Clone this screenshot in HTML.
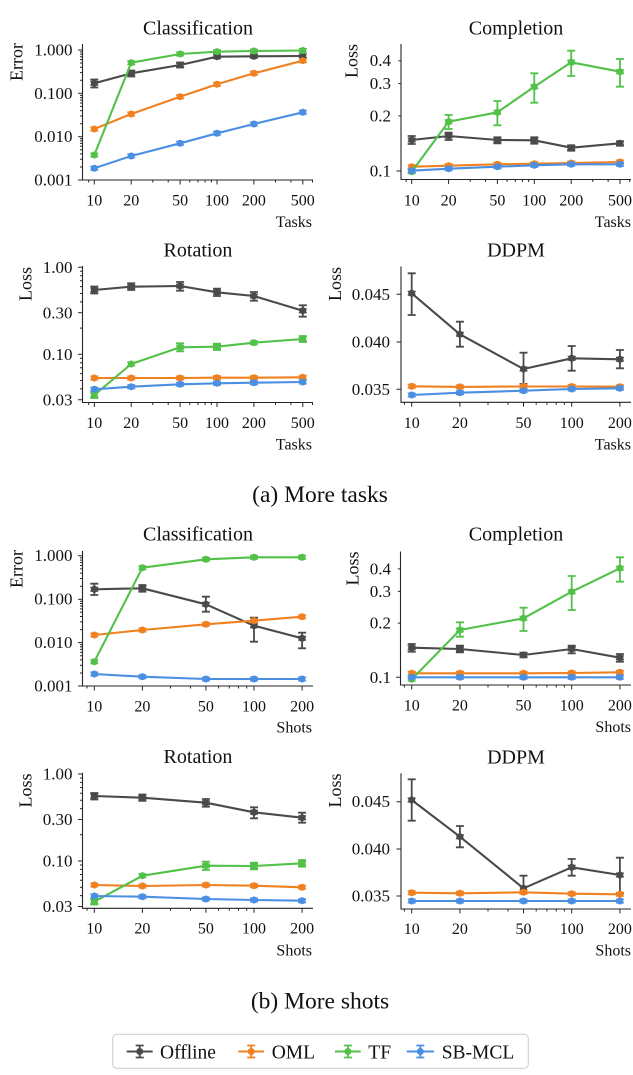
<!DOCTYPE html>
<html><head><meta charset="utf-8"><style>
html,body{margin:0;padding:0;background:#fff;}
svg{display:block;}
text{font-family:"Liberation Serif",serif;fill:#111;}
.t{font-size:20px;text-anchor:middle;}
.yl{font-size:17px;text-anchor:end;}
.xl{font-size:16px;text-anchor:middle;}
.al{font-size:16px;text-anchor:end;}
.lab{font-size:18px;text-anchor:end;}
.cap{font-size:23.5px;text-anchor:middle;}
.sp{fill:none;stroke:#262626;stroke-width:1.1;}
.tk{fill:none;stroke:#262626;stroke-width:1;}
.g{stroke:#4a4a4a;fill:#4a4a4a;}
.o{stroke:#ef8121;fill:#ef8121;}
.gr{stroke:#52c149;fill:#52c149;}
.b{stroke:#4b8fe3;fill:#4b8fe3;}
.ln{fill:none !important;stroke-width:2.1;stroke-linejoin:round;}
.eb{fill:none !important;stroke-width:1.8;}
</style></head><body>
<svg width="633" height="1075" viewBox="0 0 633 1075" xmlns="http://www.w3.org/2000/svg">
<defs>
<g id="mk"><circle r="3.5" stroke="none"/><path d="M-4 -1.8h8M-4 1.8h8" fill="none" stroke-width="1.4"/></g>
</defs>

<!-- ================= P1 Classification tasks ================= -->
<text class="t" x="198" y="34.3">Classification</text>
<text class="lab" transform="translate(22.7,43) rotate(-90)">Error</text>
<path class="sp" d="M82.5 44V180H313"/>
<path class="tk" d="M82.5 50h-4.5M82.5 93.3h-4.5M82.5 136.7h-4.5M82.5 180h-4.5"/>
<path class="tk" d="M82.5 167h-2.5M82.5 159.3h-2.5M82.5 153.9h-2.5M82.5 149.7h-2.5M82.5 146.3h-2.5M82.5 143.4h-2.5M82.5 140.9h-2.5M82.5 138.7h-2.5M82.5 123.7h-2.5M82.5 116h-2.5M82.5 110.6h-2.5M82.5 106.4h-2.5M82.5 103h-2.5M82.5 100.1h-2.5M82.5 97.6h-2.5M82.5 95.4h-2.5M82.5 80.3h-2.5M82.5 72.6h-2.5M82.5 67.2h-2.5M82.5 63h-2.5M82.5 59.6h-2.5M82.5 56.7h-2.5M82.5 54.2h-2.5M82.5 52h-2.5"/>
<path class="tk" d="M94.3 180v4.5M131.2 180v4.5M180.1 180v4.5M217 180v4.5M253.9 180v4.5M302.8 180v4.5M88.7 180v2.5M152.8 180v2.5M168.2 180v2.5M189.8 180v2.5M198 180v2.5M205.1 180v2.5M211.4 180v2.5M275.5 180v2.5M290.9 180v2.5M312.5 180v2.5"/>
<text class="yl" x="72.5" y="55.5">1.000</text>
<text class="yl" x="72.5" y="98.8">0.100</text>
<text class="yl" x="72.5" y="142.2">0.010</text>
<text class="yl" x="72.5" y="185.5">0.001</text>
<text class="xl" x="94.3" y="205.5">10</text>
<text class="xl" x="131.2" y="205.5">20</text>
<text class="xl" x="180.1" y="205.5">50</text>
<text class="xl" x="217" y="205.5">100</text>
<text class="xl" x="253.9" y="205.5">200</text>
<text class="xl" x="302.8" y="205.5">500</text>
<text class="al" x="312" y="227">Tasks</text>

<polyline class="ln g" points="94.3,83.3 131.2,73.3 180.1,65 217,56.7 253.9,56.3 302.8,56"/>
<path class="eb g" d="M94.3 79.5V87.5M90.3 79.5h8M90.3 87.5h8M131.2 70.5V76.5M127.2 70.5h8M127.2 76.5h8M180.1 62.5V67.5M176.1 62.5h8M176.1 67.5h8"/>
<g class="g"><use href="#mk" x="94.3" y="83.3"/><use href="#mk" x="131.2" y="73.3"/><use href="#mk" x="180.1" y="65"/><use href="#mk" x="217" y="56.7"/><use href="#mk" x="253.9" y="56.3"/><use href="#mk" x="302.8" y="56"/></g>
<polyline class="ln o" points="94.3,129 131.2,114 180.1,96.7 217,84.3 253.9,73.3 302.8,60.7"/>
<g class="o"><use href="#mk" x="94.3" y="129"/><use href="#mk" x="131.2" y="114"/><use href="#mk" x="180.1" y="96.7"/><use href="#mk" x="217" y="84.3"/><use href="#mk" x="253.9" y="73.3"/><use href="#mk" x="302.8" y="60.7"/></g>
<polyline class="ln gr" points="94.3,155 131.2,62.7 180.1,54 217,51.7 253.9,51 302.8,50.5"/>
<g class="gr"><use href="#mk" x="94.3" y="155"/><use href="#mk" x="131.2" y="62.7"/><use href="#mk" x="180.1" y="54"/><use href="#mk" x="217" y="51.7"/><use href="#mk" x="253.9" y="51"/><use href="#mk" x="302.8" y="50.5"/></g>
<polyline class="ln b" points="94.3,168.3 131.2,156 180.1,143.3 217,133.3 253.9,124 302.8,112.3"/>
<g class="b"><use href="#mk" x="94.3" y="168.3"/><use href="#mk" x="131.2" y="156"/><use href="#mk" x="180.1" y="143.3"/><use href="#mk" x="217" y="133.3"/><use href="#mk" x="253.9" y="124"/><use href="#mk" x="302.8" y="112.3"/></g>

<!-- ================= P2 Completion tasks ================= -->
<text class="t" x="516" y="34.3">Completion</text>
<text class="lab" transform="translate(357.7,44) rotate(-90)">Loss</text>
<path class="sp" d="M401 44V179.5H631"/>
<path class="tk" d="M401 171h-4.5M401 115.9h-2.6M401 83.6h-2.6M401 60.7h-2.6"/>
<path class="tk" d="M411.7 179.5v4.5M448.6 179.5v4.5M497.4 179.5v4.5M534.3 179.5v4.5M571.2 179.5v4.5M620 179.5v4.5M406.1 179.5v2.5M470.2 179.5v2.5M485.5 179.5v2.5M507.1 179.5v2.5M515.3 179.5v2.5M522.4 179.5v2.5M528.7 179.5v2.5M592.8 179.5v2.5M608.1 179.5v2.5M629.7 179.5v2.5"/>
<text class="yl" x="391" y="66.2">0.4</text>
<text class="yl" x="391" y="89.1">0.3</text>
<text class="yl" x="391" y="121.4">0.2</text>
<text class="yl" x="391" y="176.5">0.1</text>
<text class="xl" x="411.7" y="205.5">10</text>
<text class="xl" x="448.6" y="205.5">20</text>
<text class="xl" x="497.4" y="205.5">50</text>
<text class="xl" x="534.3" y="205.5">100</text>
<text class="xl" x="571.2" y="205.5">200</text>
<text class="xl" x="620" y="205.5">500</text>
<text class="al" x="631" y="227">Tasks</text>

<polyline class="ln g" points="411.7,140 448.6,136 497.4,140 534.3,140.3 571.2,147.7 620,143.3"/>
<path class="eb g" d="M411.7 136V144M407.7 136h8M407.7 144h8M448.6 132.7V140M444.6 132.7h8M444.6 140h8M497.4 137.3V143.3M493.4 137.3h8M493.4 143.3h8M534.3 137.3V143.7M530.3 137.3h8M530.3 143.7h8M571.2 145.3V150.7M567.2 145.3h8M567.2 150.7h8M620 141.3V145.7M616 141.3h8M616 145.7h8"/>
<g class="g"><use href="#mk" x="411.7" y="140"/><use href="#mk" x="448.6" y="136"/><use href="#mk" x="497.4" y="140"/><use href="#mk" x="534.3" y="140.3"/><use href="#mk" x="571.2" y="147.7"/><use href="#mk" x="620" y="143.3"/></g>
<polyline class="ln o" points="411.7,166.7 448.6,165.7 497.4,164.3 534.3,163.7 571.2,163 620,162"/>
<g class="o"><use href="#mk" x="411.7" y="166.7"/><use href="#mk" x="448.6" y="165.7"/><use href="#mk" x="497.4" y="164.3"/><use href="#mk" x="534.3" y="163.7"/><use href="#mk" x="571.2" y="163"/><use href="#mk" x="620" y="162"/></g>
<polyline class="ln gr" points="411.7,171.7 448.6,121.7 497.4,112.3 534.3,86.7 571.2,62.3 620,71.7"/>
<path class="eb gr" d="M448.6 115V129M444.6 115h8M444.6 129h8M497.4 101V125.3M493.4 101h8M493.4 125.3h8M534.3 73.3V102.7M530.3 73.3h8M530.3 102.7h8M571.2 50.7V76M567.2 50.7h8M567.2 76h8M620 59V86.7M616 59h8M616 86.7h8"/>
<g class="gr"><use href="#mk" x="411.7" y="171.7"/><use href="#mk" x="448.6" y="121.7"/><use href="#mk" x="497.4" y="112.3"/><use href="#mk" x="534.3" y="86.7"/><use href="#mk" x="571.2" y="62.3"/><use href="#mk" x="620" y="71.7"/></g>
<polyline class="ln b" points="411.7,170.7 448.6,168.7 497.4,166.7 534.3,165.3 571.2,164.3 620,164.3"/>
<g class="b"><use href="#mk" x="411.7" y="170.7"/><use href="#mk" x="448.6" y="168.7"/><use href="#mk" x="497.4" y="166.7"/><use href="#mk" x="534.3" y="165.3"/><use href="#mk" x="571.2" y="164.3"/><use href="#mk" x="620" y="164.3"/></g>

<!-- ================= P3 Rotation tasks ================= -->
<text class="t" x="198" y="256.7">Rotation</text>
<text class="lab" transform="translate(31.7,267) rotate(-90)">Loss</text>
<path class="sp" d="M82.5 266V402.5H313"/>
<path class="tk" d="M82.5 267.3h-4.5M82.5 312.8h-4.5M82.5 354.3h-4.5M82.5 399.8h-4.5"/>
<path class="tk" d="M82.5 328.1h-2.5M82.5 301.9h-2.5M82.5 293.5h-2.5M82.5 286.6h-2.5M82.5 280.8h-2.5M82.5 275.7h-2.5M82.5 271.3h-2.5M82.5 388.9h-2.5M82.5 380.5h-2.5M82.5 373.6h-2.5M82.5 367.8h-2.5M82.5 362.7h-2.5M82.5 358.3h-2.5"/>
<path class="tk" d="M94.3 402.5v4.5M131.2 402.5v4.5M180.1 402.5v4.5M217 402.5v4.5M253.9 402.5v4.5M302.8 402.5v4.5M88.7 402.5v2.5M152.8 402.5v2.5M168.2 402.5v2.5M189.8 402.5v2.5M198 402.5v2.5M205.1 402.5v2.5M211.4 402.5v2.5M275.5 402.5v2.5M290.9 402.5v2.5M312.5 402.5v2.5"/>
<text class="yl" x="72.5" y="272.8">1.00</text>
<text class="yl" x="72.5" y="318.3">0.30</text>
<text class="yl" x="72.5" y="359.8">0.10</text>
<text class="yl" x="72.5" y="405.3">0.03</text>
<text class="xl" x="94.3" y="428">10</text>
<text class="xl" x="131.2" y="428">20</text>
<text class="xl" x="180.1" y="428">50</text>
<text class="xl" x="217" y="428">100</text>
<text class="xl" x="253.9" y="428">200</text>
<text class="xl" x="302.8" y="428">500</text>
<text class="al" x="312" y="449.5">Tasks</text>

<polyline class="ln g" points="94.3,290 131.2,286.7 180.1,286 217,292.3 253.9,296 302.8,310.7"/>
<path class="eb g" d="M94.3 286.5V293.5M90.3 286.5h8M90.3 293.5h8M131.2 283.3V290M127.2 283.3h8M127.2 290h8M180.1 282V290.7M176.1 282h8M176.1 290.7h8M217 288.7V296M213 288.7h8M213 296h8M253.9 292V300.7M249.9 292h8M249.9 300.7h8M302.8 305.3V316.7M298.8 305.3h8M298.8 316.7h8"/>
<g class="g"><use href="#mk" x="94.3" y="290"/><use href="#mk" x="131.2" y="286.7"/><use href="#mk" x="180.1" y="286"/><use href="#mk" x="217" y="292.3"/><use href="#mk" x="253.9" y="296"/><use href="#mk" x="302.8" y="310.7"/></g>
<polyline class="ln o" points="94.3,378 131.2,378 180.1,378 217,377.7 253.9,377.7 302.8,377.3"/>
<g class="o"><use href="#mk" x="94.3" y="378"/><use href="#mk" x="131.2" y="378"/><use href="#mk" x="180.1" y="378"/><use href="#mk" x="217" y="377.7"/><use href="#mk" x="253.9" y="377.7"/><use href="#mk" x="302.8" y="377.3"/></g>
<polyline class="ln gr" points="94.3,395 131.2,364 180.1,347.3 217,346.7 253.9,342.7 302.8,339"/>
<path class="eb gr" d="M94.3 392V398M90.3 392h8M90.3 398h8M180.1 343.3V351.3M176.1 343.3h8M176.1 351.3h8M217 343.7V350M213 343.7h8M213 350h8M302.8 336V342M298.8 336h8M298.8 342h8"/>
<g class="gr"><use href="#mk" x="94.3" y="395"/><use href="#mk" x="131.2" y="364"/><use href="#mk" x="180.1" y="347.3"/><use href="#mk" x="217" y="346.7"/><use href="#mk" x="253.9" y="342.7"/><use href="#mk" x="302.8" y="339"/></g>
<polyline class="ln b" points="94.3,389.3 131.2,386.7 180.1,384.3 217,383.3 253.9,382.7 302.8,382"/>
<g class="b"><use href="#mk" x="94.3" y="389.3"/><use href="#mk" x="131.2" y="386.7"/><use href="#mk" x="180.1" y="384.3"/><use href="#mk" x="217" y="383.3"/><use href="#mk" x="253.9" y="382.7"/><use href="#mk" x="302.8" y="382"/></g>

<!-- ================= P4 DDPM tasks ================= -->
<text class="t" x="516" y="256.7">DDPM</text>
<text class="lab" transform="translate(341,267) rotate(-90)">Loss</text>
<path class="sp" d="M401 266.5V402.3H631"/>
<path class="tk" d="M401 294.3h-4.5M401 342h-4.5M401 389.3h-4.5"/>
<path class="tk" d="M411.7 402.3v4.5M459.9 402.3v4.5M523.5 402.3v4.5M571.7 402.3v4.5M619.9 402.3v4.5M404.4 402.3v2.5M488 402.3v2.5M508 402.3v2.5M536.2 402.3v2.5M546.9 402.3v2.5M556.2 402.3v2.5M564.4 402.3v2.5"/>
<text class="yl" x="390" y="299.8">0.045</text>
<text class="yl" x="390" y="347.5">0.040</text>
<text class="yl" x="390" y="394.8">0.035</text>
<text class="xl" x="411.7" y="428">10</text>
<text class="xl" x="459.9" y="428">20</text>
<text class="xl" x="523.5" y="428">50</text>
<text class="xl" x="571.7" y="428">100</text>
<text class="xl" x="619.9" y="428">200</text>
<text class="al" x="631" y="449.5">Tasks</text>

<polyline class="ln g" points="411.7,293.3 459.9,334.3 523.5,369 571.7,358.3 619.9,359.3"/>
<path class="eb g" d="M411.7 273.3V315M407.7 273.3h8M407.7 315h8M459.9 321.7V346.7M455.9 321.7h8M455.9 346.7h8M523.5 352.7V384M519.5 352.7h8M519.5 384h8M571.7 346V370.7M567.7 346h8M567.7 370.7h8M619.9 350V368.3M615.9 350h8M615.9 368.3h8"/>
<g class="g"><use href="#mk" x="411.7" y="293.3"/><use href="#mk" x="459.9" y="334.3"/><use href="#mk" x="523.5" y="369"/><use href="#mk" x="571.7" y="358.3"/><use href="#mk" x="619.9" y="359.3"/></g>
<polyline class="ln o" points="411.7,386.3 459.9,386.9 523.5,386.5 571.7,386.5 619.9,386.7"/>
<g class="o"><use href="#mk" x="411.7" y="386.3"/><use href="#mk" x="459.9" y="386.9"/><use href="#mk" x="523.5" y="386.5"/><use href="#mk" x="571.7" y="386.5"/><use href="#mk" x="619.9" y="386.7"/></g>
<polyline class="ln b" points="411.7,395 459.9,392.7 523.5,390.7 571.7,389 619.9,388.3"/>
<g class="b"><use href="#mk" x="411.7" y="395"/><use href="#mk" x="459.9" y="392.7"/><use href="#mk" x="523.5" y="390.7"/><use href="#mk" x="571.7" y="389"/><use href="#mk" x="619.9" y="388.3"/></g>

<text class="cap" x="320" y="502">(a) More tasks</text>

<!-- ================= P5 Classification shots ================= -->
<text class="t" x="198" y="540.5">Classification</text>
<text class="lab" transform="translate(22.7,550) rotate(-90)">Error</text>
<path class="sp" d="M82.5 551V686H313"/>
<path class="tk" d="M82.5 555.7h-4.5M82.5 599.2h-4.5M82.5 642.6h-4.5M82.5 686h-4.5"/>
<path class="tk" d="M82.5 673h-2.5M82.5 665.3h-2.5M82.5 659.9h-2.5M82.5 655.7h-2.5M82.5 652.3h-2.5M82.5 649.4h-2.5M82.5 646.9h-2.5M82.5 644.7h-2.5M82.5 629.6h-2.5M82.5 621.9h-2.5M82.5 616.5h-2.5M82.5 612.3h-2.5M82.5 608.9h-2.5M82.5 606h-2.5M82.5 603.5h-2.5M82.5 601.3h-2.5M82.5 586.2h-2.5M82.5 578.5h-2.5M82.5 573.1h-2.5M82.5 568.9h-2.5M82.5 565.5h-2.5M82.5 562.6h-2.5M82.5 560.1h-2.5M82.5 557.9h-2.5"/>
<path class="tk" d="M94.3 686v4.5M142.4 686v4.5M205.9 686v4.5M254 686v4.5M302.1 686v4.5M87 686v2.5M170.5 686v2.5M190.5 686v2.5M218.6 686v2.5M229.3 686v2.5M238.5 686v2.5M246.7 686v2.5"/>
<text class="yl" x="72.5" y="561.2">1.000</text>
<text class="yl" x="72.5" y="604.7">0.100</text>
<text class="yl" x="72.5" y="648.1">0.010</text>
<text class="yl" x="72.5" y="691.5">0.001</text>
<text class="xl" x="94.3" y="711.5">10</text>
<text class="xl" x="142.4" y="711.5">20</text>
<text class="xl" x="205.9" y="711.5">50</text>
<text class="xl" x="254" y="711.5">100</text>
<text class="xl" x="302.1" y="711.5">200</text>
<text class="al" x="312" y="732.5">Shots</text>

<polyline class="ln g" points="94.3,589.3 142.4,588.3 205.9,604.3 254,625.7 302.1,638.3"/>
<path class="eb g" d="M94.3 583.7V595M90.3 583.7h8M90.3 595h8M142.4 585V591.7M138.4 585h8M138.4 591.7h8M205.9 596.7V611.7M201.9 596.7h8M201.9 611.7h8M254 617.7V641.7M250 617.7h8M250 641.7h8M302.1 632.7V648.3M298.1 632.7h8M298.1 648.3h8"/>
<g class="g"><use href="#mk" x="94.3" y="589.3"/><use href="#mk" x="142.4" y="588.3"/><use href="#mk" x="205.9" y="604.3"/><use href="#mk" x="254" y="625.7"/><use href="#mk" x="302.1" y="638.3"/></g>
<polyline class="ln o" points="94.3,635 142.4,630 205.9,624.3 254,620.7 302.1,616.7"/>
<g class="o"><use href="#mk" x="94.3" y="635"/><use href="#mk" x="142.4" y="630"/><use href="#mk" x="205.9" y="624.3"/><use href="#mk" x="254" y="620.7"/><use href="#mk" x="302.1" y="616.7"/></g>
<polyline class="ln gr" points="94.3,661.7 142.4,567.7 205.9,559.3 254,557.3 302.1,557.3"/>
<g class="gr"><use href="#mk" x="94.3" y="661.7"/><use href="#mk" x="142.4" y="567.7"/><use href="#mk" x="205.9" y="559.3"/><use href="#mk" x="254" y="557.3"/><use href="#mk" x="302.1" y="557.3"/></g>
<polyline class="ln b" points="94.3,674 142.4,676.7 205.9,679 254,679 302.1,679"/>
<g class="b"><use href="#mk" x="94.3" y="674"/><use href="#mk" x="142.4" y="676.7"/><use href="#mk" x="205.9" y="679"/><use href="#mk" x="254" y="679"/><use href="#mk" x="302.1" y="679"/></g>

<!-- ================= P6 Completion shots ================= -->
<text class="t" x="516" y="540.5">Completion</text>
<text class="lab" transform="translate(358.7,551.5) rotate(-90)">Loss</text>
<path class="sp" d="M400.5 551.5V685H631"/>
<path class="tk" d="M400.5 677.3h-4.5M400.5 623.1h-2.6M400.5 591.4h-2.6M400.5 568.9h-2.6"/>
<path class="tk" d="M411.7 685v4.5M459.9 685v4.5M523.5 685v4.5M571.7 685v4.5M619.9 685v4.5M404.4 685v2.5M488 685v2.5M508 685v2.5M536.2 685v2.5M546.9 685v2.5M556.2 685v2.5M564.4 685v2.5"/>
<text class="yl" x="391" y="574.4">0.4</text>
<text class="yl" x="391" y="596.9">0.3</text>
<text class="yl" x="391" y="628.6">0.2</text>
<text class="yl" x="391" y="682.8">0.1</text>
<text class="xl" x="411.7" y="710.5">10</text>
<text class="xl" x="459.9" y="710.5">20</text>
<text class="xl" x="523.5" y="710.5">50</text>
<text class="xl" x="571.7" y="710.5">100</text>
<text class="xl" x="619.9" y="710.5">200</text>
<text class="al" x="631" y="732">Shots</text>

<polyline class="ln g" points="411.7,647.7 459.9,649 523.5,655 571.7,649 619.9,657.7"/>
<path class="eb g" d="M411.7 644V651.7M407.7 644h8M407.7 651.7h8M459.9 645.7V652.3M455.9 645.7h8M455.9 652.3h8M523.5 652.7V657.3M519.5 652.7h8M519.5 657.3h8M571.7 645.7V653.3M567.7 645.7h8M567.7 653.3h8M619.9 654V661.7M615.9 654h8M615.9 661.7h8"/>
<g class="g"><use href="#mk" x="411.7" y="647.7"/><use href="#mk" x="459.9" y="649"/><use href="#mk" x="523.5" y="655"/><use href="#mk" x="571.7" y="649"/><use href="#mk" x="619.9" y="657.7"/></g>
<polyline class="ln o" points="411.7,673.3 459.9,673.3 523.5,673.3 571.7,673 619.9,672.3"/>
<g class="o"><use href="#mk" x="411.7" y="673.3"/><use href="#mk" x="459.9" y="673.3"/><use href="#mk" x="523.5" y="673.3"/><use href="#mk" x="571.7" y="673"/><use href="#mk" x="619.9" y="672.3"/></g>
<polyline class="ln gr" points="411.7,679.3 459.9,630 523.5,618.3 571.7,591.7 619.9,568.3"/>
<path class="eb gr" d="M459.9 622.3V636.7M455.9 622.3h8M455.9 636.7h8M523.5 607.7V631M519.5 607.7h8M519.5 631h8M571.7 576V610M567.7 576h8M567.7 610h8M619.9 557.3V581.7M615.9 557.3h8M615.9 581.7h8"/>
<g class="gr"><use href="#mk" x="411.7" y="679.3"/><use href="#mk" x="459.9" y="630"/><use href="#mk" x="523.5" y="618.3"/><use href="#mk" x="571.7" y="591.7"/><use href="#mk" x="619.9" y="568.3"/></g>
<polyline class="ln b" points="411.7,677.3 459.9,677.3 523.5,677.3 571.7,677.3 619.9,677.3"/>
<g class="b"><use href="#mk" x="411.7" y="677.3"/><use href="#mk" x="459.9" y="677.3"/><use href="#mk" x="523.5" y="677.3"/><use href="#mk" x="571.7" y="677.3"/><use href="#mk" x="619.9" y="677.3"/></g>

<!-- ================= P7 Rotation shots ================= -->
<text class="t" x="198" y="763">Rotation</text>
<text class="lab" transform="translate(31.7,773.5) rotate(-90)">Loss</text>
<path class="sp" d="M82.5 772.7V908.3H313"/>
<path class="tk" d="M82.5 774h-4.5M82.5 819.5h-4.5M82.5 861h-4.5M82.5 906.5h-4.5"/>
<path class="tk" d="M82.5 834.8h-2.5M82.5 808.6h-2.5M82.5 800.2h-2.5M82.5 793.3h-2.5M82.5 787.5h-2.5M82.5 782.4h-2.5M82.5 778h-2.5M82.5 895.6h-2.5M82.5 887.2h-2.5M82.5 880.3h-2.5M82.5 874.5h-2.5M82.5 869.4h-2.5M82.5 865h-2.5"/>
<path class="tk" d="M94.3 908.3v4.5M142.4 908.3v4.5M205.9 908.3v4.5M254 908.3v4.5M302.1 908.3v4.5M87 908.3v2.5M170.5 908.3v2.5M190.5 908.3v2.5M218.6 908.3v2.5M229.3 908.3v2.5M238.5 908.3v2.5M246.7 908.3v2.5"/>
<text class="yl" x="72.5" y="779.5">1.00</text>
<text class="yl" x="72.5" y="825">0.30</text>
<text class="yl" x="72.5" y="866.5">0.10</text>
<text class="yl" x="72.5" y="912">0.03</text>
<text class="xl" x="94.3" y="933.5">10</text>
<text class="xl" x="142.4" y="933.5">20</text>
<text class="xl" x="205.9" y="933.5">50</text>
<text class="xl" x="254" y="933.5">100</text>
<text class="xl" x="302.1" y="933.5">200</text>
<text class="al" x="312" y="955.5">Shots</text>

<polyline class="ln g" points="94.3,796 142.4,797.7 205.9,802.7 254,812.3 302.1,817.7"/>
<path class="eb g" d="M94.3 793V799.5M90.3 793h8M90.3 799.5h8M142.4 794.5V800.8M138.4 794.5h8M138.4 800.8h8M205.9 799V806.7M201.9 799h8M201.9 806.7h8M254 807.3V818.3M250 807.3h8M250 818.3h8M302.1 812.7V822.7M298.1 812.7h8M298.1 822.7h8"/>
<g class="g"><use href="#mk" x="94.3" y="796"/><use href="#mk" x="142.4" y="797.7"/><use href="#mk" x="205.9" y="802.7"/><use href="#mk" x="254" y="812.3"/><use href="#mk" x="302.1" y="817.7"/></g>
<polyline class="ln o" points="94.3,885 142.4,886 205.9,885 254,885.7 302.1,887.3"/>
<g class="o"><use href="#mk" x="94.3" y="885"/><use href="#mk" x="142.4" y="886"/><use href="#mk" x="205.9" y="885"/><use href="#mk" x="254" y="885.7"/><use href="#mk" x="302.1" y="887.3"/></g>
<polyline class="ln gr" points="94.3,901.7 142.4,875.7 205.9,865.7 254,866 302.1,863.3"/>
<path class="eb gr" d="M94.3 899V904.5M90.3 899h8M90.3 904.5h8M205.9 861.7V870M201.9 861.7h8M201.9 870h8M254 862.7V869.3M250 862.7h8M250 869.3h8M302.1 860V866.7M298.1 860h8M298.1 866.7h8"/>
<g class="gr"><use href="#mk" x="94.3" y="901.7"/><use href="#mk" x="142.4" y="875.7"/><use href="#mk" x="205.9" y="865.7"/><use href="#mk" x="254" y="866"/><use href="#mk" x="302.1" y="863.3"/></g>
<polyline class="ln b" points="94.3,896 142.4,896.7 205.9,899 254,900 302.1,900.7"/>
<g class="b"><use href="#mk" x="94.3" y="896"/><use href="#mk" x="142.4" y="896.7"/><use href="#mk" x="205.9" y="899"/><use href="#mk" x="254" y="900"/><use href="#mk" x="302.1" y="900.7"/></g>

<!-- ================= P8 DDPM shots ================= -->
<text class="t" x="516" y="763.3">DDPM</text>
<text class="lab" transform="translate(341,773.5) rotate(-90)">Loss</text>
<path class="sp" d="M401 773.3V909H631"/>
<path class="tk" d="M401 801.7h-4.5M401 849h-4.5M401 896h-4.5"/>
<path class="tk" d="M411.7 909v4.5M459.9 909v4.5M523.5 909v4.5M571.7 909v4.5M619.9 909v4.5M404.4 909v2.5M488 909v2.5M508 909v2.5M536.2 909v2.5M546.9 909v2.5M556.2 909v2.5M564.4 909v2.5"/>
<text class="yl" x="390" y="807.2">0.045</text>
<text class="yl" x="390" y="854.5">0.040</text>
<text class="yl" x="390" y="901.5">0.035</text>
<text class="xl" x="411.7" y="934">10</text>
<text class="xl" x="459.9" y="934">20</text>
<text class="xl" x="523.5" y="934">50</text>
<text class="xl" x="571.7" y="934">100</text>
<text class="xl" x="619.9" y="934">200</text>
<text class="al" x="631" y="955.5">Shots</text>

<polyline class="ln g" points="411.7,800 459.9,836.7 523.5,888.3 571.7,867.3 619.9,875"/>
<path class="eb g" d="M411.7 779.3V820.7M407.7 779.3h8M407.7 820.7h8M459.9 826V847.3M455.9 826h8M455.9 847.3h8M523.5 875.7V893M519.5 875.7h8M519.5 893h8M571.7 859V875.7M567.7 859h8M567.7 875.7h8M619.9 857.7V893.3M615.9 857.7h8M615.9 893.3h8"/>
<g class="g"><use href="#mk" x="411.7" y="800"/><use href="#mk" x="459.9" y="836.7"/><use href="#mk" x="523.5" y="888.3"/><use href="#mk" x="571.7" y="867.3"/><use href="#mk" x="619.9" y="875"/></g>
<polyline class="ln o" points="411.7,892.7 459.9,893.3 523.5,892.3 571.7,893.7 619.9,894.3"/>
<g class="o"><use href="#mk" x="411.7" y="892.7"/><use href="#mk" x="459.9" y="893.3"/><use href="#mk" x="523.5" y="892.3"/><use href="#mk" x="571.7" y="893.7"/><use href="#mk" x="619.9" y="894.3"/></g>
<polyline class="ln b" points="411.7,901 459.9,901 523.5,901 571.7,901 619.9,901"/>
<g class="b"><use href="#mk" x="411.7" y="901"/><use href="#mk" x="459.9" y="901"/><use href="#mk" x="523.5" y="901"/><use href="#mk" x="571.7" y="901"/><use href="#mk" x="619.9" y="901"/></g>

<text class="cap" x="320" y="1008.5">(b) More shots</text>

<!-- ================= Legend ================= -->
<rect x="112.7" y="1034.3" width="415.6" height="34" rx="4" ry="4" fill="#fff" stroke="#cccccc" stroke-width="1"/>
<g class="g"><path class="ln" d="M126.7 1051.5H152.7"/><path class="eb" d="M139.7 1045.5V1057.5M135.7 1045.5h8M135.7 1057.5h8"/><circle cx="139.7" cy="1051.5" r="3.5" stroke="none"/></g>
<text x="160" y="1058.5" style="font-size:19.5px">Offline</text>
<g class="o"><path class="ln" d="M238.3 1051.5H264"/><path class="eb" d="M251.2 1045.5V1057.5M247.2 1045.5h8M247.2 1057.5h8"/><circle cx="251.2" cy="1051.5" r="3.5" stroke="none"/></g>
<text x="271.7" y="1058.5" style="font-size:19.5px">OML</text>
<g class="gr"><path class="ln" d="M335 1051.5H360.7"/><path class="eb" d="M347.9 1045.5V1057.5M343.9 1045.5h8M343.9 1057.5h8"/><circle cx="347.9" cy="1051.5" r="3.5" stroke="none"/></g>
<text x="368.3" y="1058.5" style="font-size:19.5px">TF</text>
<g class="b"><path class="ln" d="M406.7 1051.5H434"/><path class="eb" d="M420.3 1045.5V1057.5M416.3 1045.5h8M416.3 1057.5h8"/><circle cx="420.3" cy="1051.5" r="3.5" stroke="none"/></g>
<text x="441.7" y="1058.5" style="font-size:19.5px">SB-MCL</text>
</svg>
</body></html>
